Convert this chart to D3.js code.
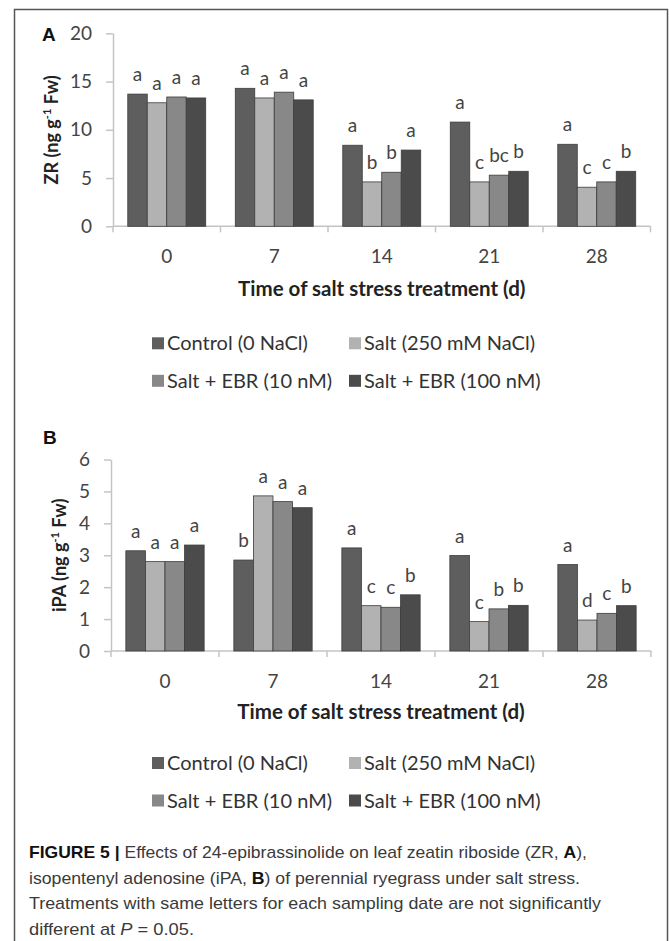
<!DOCTYPE html>
<html lang='en'>
<head>
	<meta charset='UTF-8'/>
	<title>Figure 5: ZR and iPA under salt stress</title>
	<script src='https://cdn.jsdelivr.net/npm/d3@7'></script>
	<style>
		body {margin: 0; background: #fff;}
		svg {display: block;}
		.tick text {font-family: Lato, 'Open Sans', sans-serif;}
	</style>
</head>
<body>
	<div class='graph'></div>
	<script>
		// sampling days and treatments
		const days = ['0', '7', '14', '21', '28'];
		const treatments = ['Control (0 NaCl)', 'Salt (250 mM NaCl)', 'Salt + EBR (10 nM)', 'Salt + EBR (100 nM)'];
		const colours = ['#5e5e5e', '#b2b2b2', '#888888', '#4b4b4b'];

		// panel A: ZR (ng g-1 Fw)
		const zrControl = [13.7, 14.3, 8.4, 10.8, 8.5];
		const zrSalt = [12.8, 13.3, 4.6, 4.6, 4.05];
		const zrEbr10 = [13.4, 13.9, 5.6, 5.3, 4.6];
		const zrEbr100 = [13.3, 13.1, 7.9, 5.7, 5.7];
		const zrLetters = [['a', 'a', 'a', 'a'], ['a', 'a', 'a', 'a'], ['a', 'b', 'b', 'a'], ['a', 'c', 'bc', 'b'], ['a', 'c', 'c', 'b']];
		const zrTicks = [0, 5, 10, 15, 20];

		// panel B: iPA (ng g-1 Fw)
		const ipaControl = [3.14, 2.85, 3.23, 2.99, 2.71];
		const ipaSalt = [2.80, 4.86, 1.42, 0.92, 0.97];
		const ipaEbr10 = [2.80, 4.68, 1.37, 1.32, 1.18];
		const ipaEbr100 = [3.32, 4.49, 1.76, 1.43, 1.42];
		const ipaLetters = [['a', 'a', 'a', 'a'], ['b', 'a', 'a', 'a'], ['a', 'c', 'c', 'b'], ['a', 'c', 'b', 'b'], ['a', 'd', 'c', 'b']];
		const ipaTicks = [0, 1, 2, 3, 4, 5, 6];

		const width = 669;
		const height = 941;
		const FONT = "Lato, 'Open Sans', sans-serif";

		const svg = d3.select('.graph')
			.append('svg')
			.attr('width', width)
			.attr('height', height);

		// outer frame of the figure
		svg.append('rect')
			.attr('x', 14.5).attr('y', 9.5)
			.attr('width', 653).attr('height', 960)
			.attr('fill', 'none')
			.attr('stroke', '#555')
			.attr('stroke-width', 1.5);

		function drawPanel(p) {
			const series = p.series;
			const rows = days.map((d, i) => ({day: d, values: series.map(s => s[i]), letters: p.letters[i]}));

			const X0 = d3.scaleBand().domain(days).range([p.left, p.right]);
			const groupW = X0.bandwidth() * 0.725;
			const X1 = d3.scaleBand().domain(d3.range(series.length)).range([0, groupW]);
			const Y = d3.scaleLinear().domain([0, d3.max(p.ticks)]).range([p.bottom, p.top]);
			const g = svg.append('g');

			// y axis
			const yAxis = g.append('g')
				.attr('transform', 'translate(' + p.left + ',0)')
				.call(d3.axisLeft(Y).tickValues(p.ticks).tickFormat(d3.format('d'))
					.tickSize(7).tickSizeOuter(0).tickPadding(14));
			yAxis.select('.domain').attr('stroke', '#c4c4c4').attr('stroke-width', 1.5);
			yAxis.selectAll('.tick line').attr('stroke', '#c4c4c4').attr('stroke-width', 1.5);
			yAxis.selectAll('.tick text').attr('fill', '#444').style('font-size', '19px');

			// x axis: baseline plus ticks between groups
			g.append('line')
				.attr('x1', p.left).attr('x2', p.right)
				.attr('y1', Y(0)).attr('y2', Y(0))
				.attr('stroke', '#c4c4c4').attr('stroke-width', 1.5);
			g.selectAll('.xtick')
				.data(days.concat(['end']))
				.enter().append('line')
				.attr('x1', (d, i) => p.left + i * X0.step())
				.attr('x2', (d, i) => p.left + i * X0.step())
				.attr('y1', Y(0)).attr('y2', Y(0) + 6)
				.attr('stroke', '#c4c4c4').attr('stroke-width', 1.5);
			g.selectAll('.xlabel')
				.data(days)
				.enter().append('text')
				.attr('x', d => X0(d) + X0.bandwidth() / 2)
				.attr('y', Y(0) + 37)
				.attr('text-anchor', 'middle')
				.attr('fill', '#444')
				.style('font-family', FONT).style('font-size', '19px')
				.text(d => d);

			// bars
			const groups = g.selectAll('.group')
				.data(rows)
				.enter().append('g')
				.attr('transform', d => 'translate(' + (X0(d.day) + (X0.bandwidth() - groupW) / 2) + ',0)');
			groups.selectAll('rect')
				.data(d => d.values)
				.enter().append('rect')
				.attr('x', (d, i) => X1(i))
				.attr('y', d => Y(d))
				.attr('width', X1.bandwidth())
				.attr('height', d => Y(0) - Y(d))
				.attr('fill', (d, i) => colours[i])
				.attr('stroke', '#3c3c3c').attr('stroke-width', 0.8);
			// significance letters
			groups.selectAll('.letter')
				.data(d => d.values.map((v, i) => ({v: v, l: d.letters[i]})))
				.enter().append('text')
				.attr('x', (d, i) => X1(i) + X1.bandwidth() / 2)
				.attr('y', d => Y(d.v) - 13)
				.attr('text-anchor', 'middle')
				.attr('fill', '#444')
				.style('font-family', FONT).style('font-size', '19px')
				.text(d => d.l);

			// axis titles
			g.append('text')
				.attr('x', (p.left + p.right) / 2)
				.attr('y', Y(0) + p.titleGap)
				.attr('text-anchor', 'middle')
				.attr('fill', '#222')
				.style('font-family', FONT).style('font-size', '20.5px').style('font-weight', 'bold')
				.text('Time of salt stress treatment (d)');
			const yt = g.append('text')
				.attr('transform', 'translate(' + p.titleX + ',' + (p.top + p.bottom) / 2 + ') rotate(-90)')
				.attr('text-anchor', 'middle')
				.attr('fill', '#222')
				.style('font-family', FONT).style('font-size', '18px').style('font-weight', 'bold');
			yt.append('tspan').text(p.yName + ' (ng g');
			yt.append('tspan').attr('dy', -7).style('font-size', '11px').text('-1');
			yt.append('tspan').attr('dy', 7).text(' Fw)');

			// panel letter
			g.append('text')
				.attr('x', p.tagX).attr('y', p.tagY)
				.attr('fill', '#111')
				.style('font-family', 'Liberation Sans, Arial, sans-serif').style('font-size', '19px').style('font-weight', 'bold')
				.text(p.tag);

			// legend, two rows of two
			const legend = g.selectAll('.legend')
				.data(treatments)
				.enter().append('g')
				.attr('transform', (d, i) => 'translate(' + (i % 2 ? 349 : 152) + ',' + (Y(0) + p.legendGap + Math.floor(i / 2) * 37.5) + ')');
			legend.append('rect')
				.attr('x', 0).attr('y', -6)
				.attr('width', 12).attr('height', 12)
				.attr('fill', (d, i) => colours[i]);
			legend.append('text')
				.attr('x', 15).attr('y', 7)
				.attr('fill', '#333')
				.style('font-family', FONT).style('font-size', '20px')
				.text(d => d);
		}

		drawPanel({
			series: [zrControl, zrSalt, zrEbr10, zrEbr100], letters: zrLetters, ticks: zrTicks,
			left: 113, right: 650.5, top: 33.3, bottom: 226.3,
			yName: 'ZR', titleX: 58, tag: 'A', tagX: 42, tagY: 41, titleGap: 70, legendGap: 117
		});
		drawPanel({
			series: [ipaControl, ipaSalt, ipaEbr10, ipaEbr100], letters: ipaLetters, ticks: ipaTicks,
			left: 111, right: 651, top: 459.5, bottom: 651,
			yName: 'iPA', titleX: 66, tag: 'B', tagX: 43, tagY: 444, titleGap: 67.5, legendGap: 112
		});

		// caption
		const capLines = [
			[['FIGURE 5 | ', 'bold'], ['Effects of 24-epibrassinolide on leaf zeatin riboside (ZR, ', ''], ['A', 'bold'], ['),', '']],
			[['isopentenyl adenosine (iPA, ', ''], ['B', 'bold'], [') of perennial ryegrass under salt stress.', '']],
			[['Treatments with same letters for each sampling date are not significantly', '']],
			[['different at ', ''], ['P', 'italic'], [' = 0.05.', '']]
		];
		const capWidths = [558, 551, 572, 165];
		const caption = svg.append('g');
		capLines.forEach((line, i) => {
			const t = caption.append('text')
				.attr('x', 29)
				.attr('y', 858 + i * 25.5)
				.attr('fill', '#3a3a3a')
				.attr('textLength', capWidths[i])
				.attr('lengthAdjust', 'spacingAndGlyphs')
				.style('font-family', "'Liberation Sans Narrow', 'Liberation Sans', Arial, sans-serif")
				.style('font-size', '17px');
			line.forEach(part => {
				const s = t.append('tspan').text(part[0]);
				if (part[1] === 'bold') s.style('font-weight', 'bold').attr('fill', '#111');
				if (part[1] === 'italic') s.style('font-style', 'italic');
			});
		});
	</script>
</body>
</html>
